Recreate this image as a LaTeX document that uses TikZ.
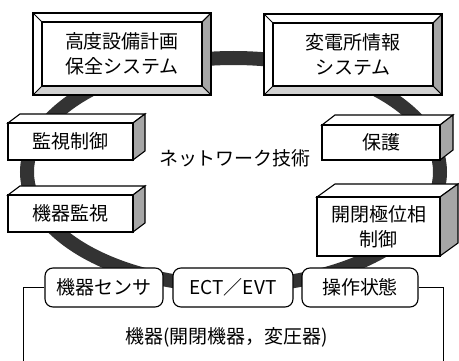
\documentclass[tikz,border=0pt]{standalone}
\usepackage{fontspec}
\setmainfont{Noto Sans CJK JP}
\begin{document}
\begin{tikzpicture}[x=1pt,y=-1pt,line width=1.1pt,
  lbl/.style={font=\fontsize{19}{25}\selectfont, align=center, inner sep=0pt},
  facebox/.style={draw, fill=white, lbl},
  sidefill/.style={draw, fill=black!35},
  topfill/.style={draw, fill=white},
  rbox/.style={draw, fill=white, rounded corners=8pt, lbl},
  ring/.style={line width=14pt, draw=black!80},
  wire/.style={line width=1pt}]
\useasboundingbox (0,0) rectangle (459,361);
\fill[white] (0,0) rectangle (459,361);
% network ring
\draw[ring] (233.5,172) ellipse [x radius=206.5pt, y radius=114pt];
% bevelled boxes
\newcommand\bevbox[7]{%
  \fill[white] (#2,#3) rectangle (#4,#5);
  \filldraw[fill=black!35,line width=0.8pt] (#4,#3) -- (#4,#5) -- ({#4-#6},{#5-#6}) -- ({#4-#6},{#3+#6}) -- cycle;
  \filldraw[fill=black!18,line width=0.8pt] (#2,#5) -- (#4,#5) -- ({#4-#6},{#5-#6}) -- ({#2+#6},{#5-#6}) -- cycle;
  \draw (#2,#3) rectangle (#4,#5);
  \draw[line width=0.8pt] (#2,#3) -- ({#2+#6},{#3+#6});
  \draw[line width=0.8pt] (#4,#3) -- ({#4-#6},{#3+#6});
  \node[draw, lbl, minimum width={#4-#2-2*#6}, minimum height={#5-#3-2*#6}] (#1) at ({(#2+#4)/2},{(#3+#5)/2}) {#7};
}
\bevbox{plan}{33}{13}{211}{95}{9}{高度設備計画\\保全システム}
\bevbox{info}{264}{14}{442}{95}{9}{変電所情報\\システム}
% 3D boxes
\newcommand\cubebox[8]{%
  \filldraw[topfill] (#2,#3) -- ({#2+#6},{#3-#7}) -- ({#4+#6},{#3-#7}) -- (#4,#3) -- cycle;
  \filldraw[sidefill] (#4,#3) -- ({#4+#6},{#3-#7}) -- ({#4+#6},{#5-#7}) -- (#4,#5) -- cycle;
  \node[facebox, minimum width={#4-#2}, minimum height={#5-#3}] (#1) at ({(#2+#4)/2},{(#3+#5)/2}) {#8};
}
\cubebox{kanshi}{8}{123}{133}{160}{12}{9}{監視制御}
\cubebox{kikikanshi}{8}{195}{133}{232}{12}{9}{機器監視}
\cubebox{hogo}{322}{125}{440}{160}{13}{10}{保護}
\cubebox{isou}{317}{197}{440}{256}{18}{13}{開閉極位相\\制御}
% bottom boxes
\node[rbox, minimum width=118, minimum height=39] (sensor) at (104,287.5) {機器センサ};
\node[rbox, minimum width=120, minimum height=39] (ect) at (233,287.5) {ECT／EVT};
\node[rbox, minimum width=116, minimum height=39] (sousa) at (360,287.5) {操作状態};
% frame of equipment
\coordinate (fl) at (23,361);
\coordinate (fr) at (443,361);
\draw[wire] (sensor.west) -| (fl);
\draw[wire] (sousa.east) -| (fr);
% labels
\node[lbl] (net) at (235,158) {ネットワーク技術};
\node[lbl] (kiki) at (227,337) {機器(開閉機器，変圧器)};
\end{tikzpicture}
\end{document}
